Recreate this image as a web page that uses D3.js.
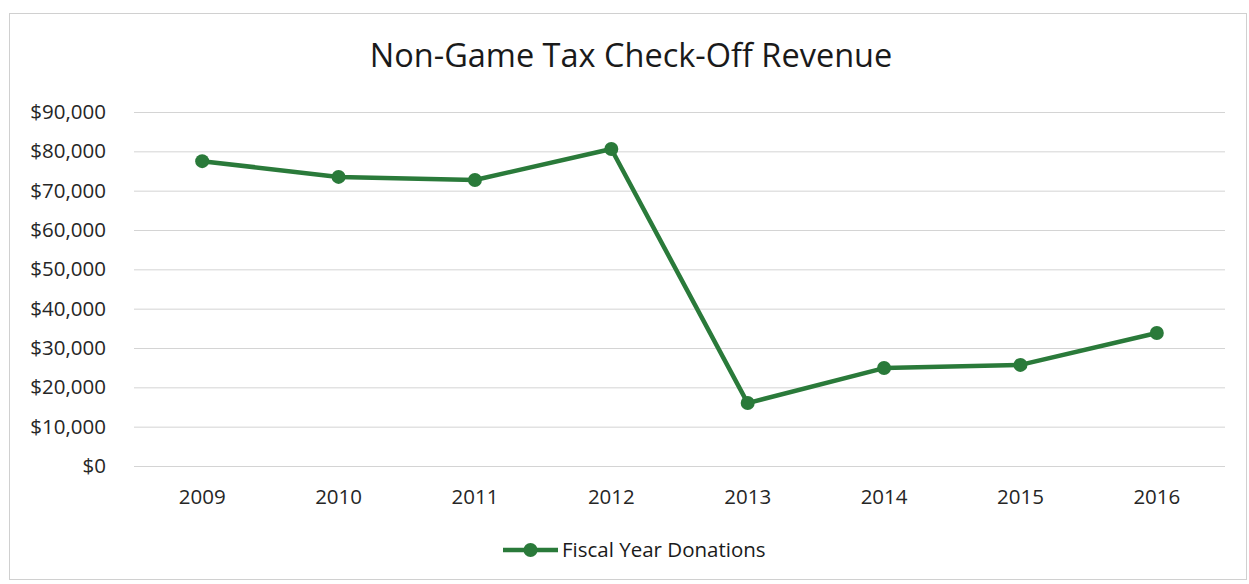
<!DOCTYPE html>
<html><head><meta charset="utf-8">
<script src="https://cdn.jsdelivr.net/npm/d3@7"></script>
<style>body{margin:0;background:#fff}svg{display:block}</style>
</head><body>
<svg id="c" width="1249" height="584"></svg>
<script>
const categories = ["2009","2010","2011","2012","2013","2014","2015","2016"];
const donations = [77500, 73500, 72700, 80600, 16000, 24900, 25700, 33800];
const yTicks = [0,10000,20000,30000,40000,50000,60000,70000,80000,90000];
const seriesName = "Fiscal Year Donations";
const title = "Non-Game Tax Check-Off Revenue";

const svg = d3.select("#c");
const font = "'Open Sans', sans-serif";
const green = "#2a7a3a";
const m = {left:134, right:1225, top:112, bottom:466};

svg.append("rect").attr("x",9.5).attr("y",13.5).attr("width",1237).attr("height",566)
  .attr("fill","#fff").attr("stroke","#d0d0d0").attr("stroke-width",1);

const x = d3.scaleBand().domain(categories).range([m.left,m.right]);
const y = d3.scaleLinear().domain([0,90000]).range([m.bottom,m.top]);

svg.append("g").selectAll("line").data(yTicks).join("line")
  .attr("x1",m.left).attr("x2",m.right)
  .attr("y1",d=>y(d)+0.5).attr("y2",d=>y(d)+0.5)
  .attr("stroke","#d4d4d4").attr("stroke-width",1);

const fmt = d3.format(",");
const yAxis = d3.axisLeft(y).tickValues(yTicks).tickSize(0).tickPadding(0).tickFormat(d=>"$"+fmt(d));
const gy = svg.append("g").attr("transform",`translate(106,0)`).call(yAxis);
gy.select(".domain").remove();
gy.selectAll("text").attr("font-family",font).attr("font-size",20.5).attr("fill","#262626");

const xAxis = d3.axisBottom(x).tickSize(0).tickPadding(0);
const gx = svg.append("g").attr("transform",`translate(0,497)`).call(xAxis);
gx.select(".domain").remove();
gx.selectAll("text").attr("font-family",font).attr("font-size",20.5).attr("fill","#262626").attr("dy","0.35em");

const cx = d=>x(d)+x.bandwidth()/2;
const line = d3.line().x((d,i)=>cx(categories[i])).y(d=>y(d));
svg.append("path").datum(donations).attr("d",line).attr("fill","none")
  .attr("stroke",green).attr("stroke-width",4.5).attr("stroke-linejoin","round");
svg.append("g").selectAll("circle").data(donations).join("circle")
  .attr("cx",(d,i)=>cx(categories[i])).attr("cy",d=>y(d)).attr("r",7).attr("fill",green);

svg.append("text").attr("x",631).attr("y",56).attr("dy","0.35em").attr("text-anchor","middle")
  .attr("font-family",font).attr("font-size",32.5).attr("fill","#1a1a1a").text(title);

const lg = svg.append("g").attr("transform","translate(503,550)");
lg.append("line").attr("x1",0).attr("x2",55).attr("y1",0).attr("y2",0).attr("stroke",green).attr("stroke-width",4.5);
lg.append("circle").attr("cx",27.5).attr("cy",0).attr("r",7).attr("fill",green);
lg.append("text").attr("x",59).attr("y",0).attr("dy","0.35em").attr("font-family",font)
  .attr("font-size",20.5).attr("fill","#1a1a1a").text(seriesName);
</script>
</body></html>
